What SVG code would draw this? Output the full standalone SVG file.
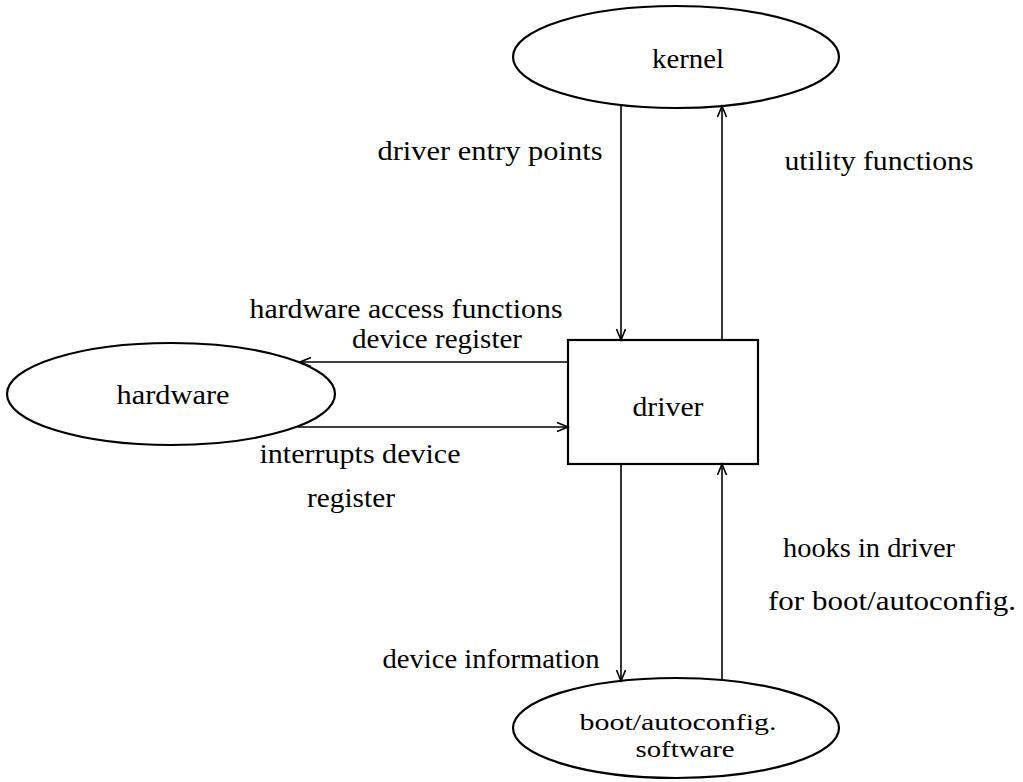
<svg xmlns="http://www.w3.org/2000/svg" width="1023" height="782" viewBox="0 0 1023 782">
<style>
.n{fill:none;stroke:#000;stroke-width:2.2}
.c{fill:none;stroke:#000;stroke-width:1.6}
text{font-family:"Liberation Serif","Times New Roman",serif;font-size:27px;fill:#000;text-anchor:middle}
.s{font-size:24px}
</style>
<defs>
<marker id="ah" markerUnits="userSpaceOnUse" markerWidth="15" markerHeight="12" refX="12" refY="5" orient="auto">
<path d="M1,0.5 L12,5 L1,9.5" fill="none" stroke="#000" stroke-width="1.6"/>
</marker>
</defs>
<rect width="1023" height="782" fill="#fff"/>
<g id="kernel">
<ellipse class="n" cx="676" cy="57" rx="163" ry="51"/>
<text x="688" y="68" textLength="72" lengthAdjust="spacingAndGlyphs">kernel</text>
</g>
<g id="hardware">
<ellipse class="n" cx="171" cy="394" rx="164" ry="51"/>
<text x="173" y="404" textLength="113" lengthAdjust="spacingAndGlyphs">hardware</text>
</g>
<g id="driver">
<rect class="n" x="568" y="340" width="190" height="124"/>
<text x="668" y="416" textLength="71" lengthAdjust="spacingAndGlyphs">driver</text>
</g>
<g id="boot">
<ellipse class="n" cx="676" cy="728" rx="163" ry="50"/>
<text class="s" x="678" y="730" textLength="197" lengthAdjust="spacingAndGlyphs">boot/autoconfig.</text>
<text class="s" x="685" y="757" textLength="99" lengthAdjust="spacingAndGlyphs">software</text>
</g>
<g id="connectors">
<line class="c" x1="621" y1="105" x2="621" y2="340" marker-end="url(#ah)"/>
<line class="c" x1="722" y1="340" x2="722" y2="106" marker-end="url(#ah)"/>
<line class="c" x1="568" y1="362" x2="300" y2="362" marker-end="url(#ah)"/>
<line class="c" x1="298" y1="427" x2="568" y2="427" marker-end="url(#ah)"/>
<line class="c" x1="621" y1="464" x2="621" y2="681" marker-end="url(#ah)"/>
<line class="c" x1="722" y1="680" x2="722" y2="464" marker-end="url(#ah)"/>
</g>
<g id="labels">
<text x="490" y="160" textLength="225" lengthAdjust="spacingAndGlyphs">driver entry points</text>
<text x="879" y="170" textLength="189" lengthAdjust="spacingAndGlyphs">utility functions</text>
<text x="406" y="318" textLength="313" lengthAdjust="spacingAndGlyphs">hardware access functions</text>
<text x="437" y="348" textLength="170" lengthAdjust="spacingAndGlyphs">device register</text>
<text x="360" y="463" textLength="201" lengthAdjust="spacingAndGlyphs">interrupts device</text>
<text x="351" y="507" textLength="88" lengthAdjust="spacingAndGlyphs">register</text>
<text x="869" y="557" textLength="172" lengthAdjust="spacingAndGlyphs">hooks in driver</text>
<text x="892" y="610" textLength="248" lengthAdjust="spacingAndGlyphs">for boot/autoconfig.</text>
<text x="491" y="668" textLength="217" lengthAdjust="spacingAndGlyphs">device information</text>
</g>
</svg>
